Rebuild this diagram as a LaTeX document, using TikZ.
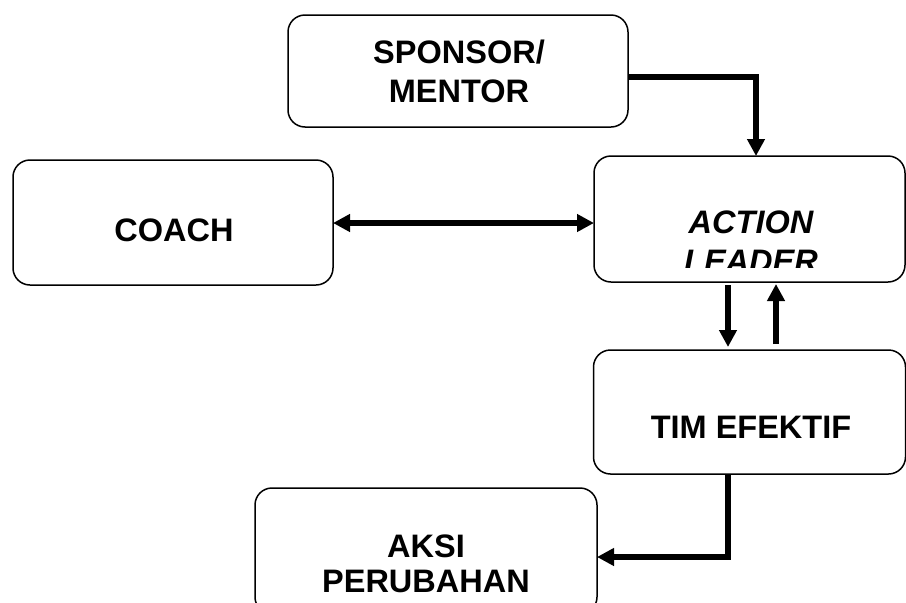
\documentclass[tikz,border=0pt]{standalone}
\usepackage{fontspec}
\setmainfont{Liberation Sans}
\usetikzlibrary{arrows.meta}
\begin{document}
\begin{tikzpicture}[x=1pt,y=-1pt,
  box/.style={draw, line width=1.5pt, rounded corners=17pt, inner sep=0pt, outer sep=0pt},
  lbl/.style={font=\bfseries\fontsize{32.5}{38}\selectfont, anchor=base, inner sep=0pt},
  ilbl/.style={lbl, font=\bfseries\itshape\fontsize{32.5}{38}\selectfont},
  arr/.style={line width=5.5pt, line join=miter, -{Triangle[length=17pt,width=17pt]}},
  darr/.style={line width=5.5pt, {Triangle[length=17pt,width=17pt]}-{Triangle[length=17pt,width=17pt]}}]
\useasboundingbox (0,0) rectangle (906,603);
\clip (0,0) rectangle (906,603);
% boxes
\node[box, minimum width=340pt, minimum height=112pt] (spon) at (458,71) {};
\node[box, minimum width=320pt, minimum height=125pt] (coach) at (173,222.5) {};
\node[box, minimum width=311pt, minimum height=126pt] (act) at (749.5,219) {};
\node[box, minimum width=312pt, minimum height=124pt] (tim) at (749.5,412) {};
\node[box, minimum width=342pt, minimum height=126pt] (aksi) at (426,551) {};
% labels
\node[lbl] (t1) at (459,63) {SPONSOR/};
\node[lbl] (t2) at (459,102) {MENTOR};
\node[lbl] (t3) at (174,241) {COACH};
\node[ilbl] (t4) at (751,233) {ACTION};
\begin{scope}
\clip (594,150) rectangle (906,267);
\node[ilbl] (t5) at (751,272) {LEADER};
\end{scope}
\node[lbl] (t6) at (751,438) {TIM EFEKTIF};
\node[lbl] (t7) at (426,557) {AKSI};
\node[lbl] (t8) at (426,592) {PERUBAHAN};
% connectors
\draw[arr] ([yshift=-6pt]spon.east) -| ([xshift=6.5pt]act.north);
\draw[darr] ([yshift=-0.5pt]coach.east) -- ([yshift=-0.5pt]coach.east -| act.west);
\draw[arr] ([xshift=-21.5pt,yshift=-3pt]act.south) -- ([xshift=-21.5pt,yshift=3pt]tim.north);
\draw[arr] ([xshift=26.5pt,yshift=6pt]tim.north) -- ([xshift=26.5pt,yshift=-2pt]act.south);
\draw[arr] ([xshift=-21.5pt]tim.south) |- ([yshift=-6pt]aksi.east);
\end{tikzpicture}
\end{document}
